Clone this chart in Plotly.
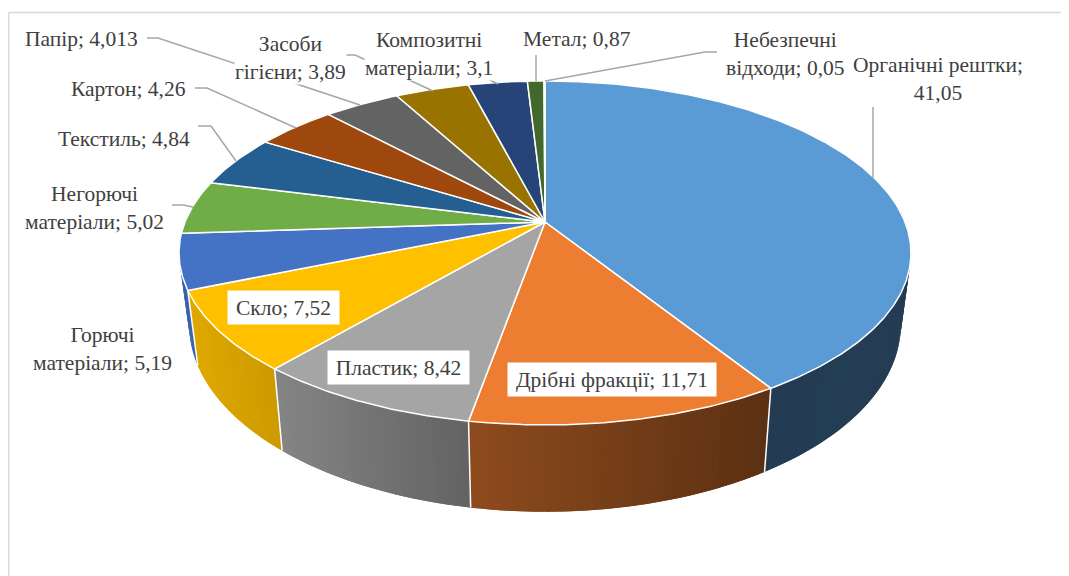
import math
import numpy as np
import plotly.graph_objects as go

categories = ["Органічні рештки", "Дрібні фракції", "Пластик", "Скло", "Горючі матеріали",
              "Негорючі матеріали", "Текстиль", "Картон", "Папір", "Засоби гігієни",
              "Композитні матеріали", "Метал", "Небезпечні відходи"]
values = [41.05, 11.71, 8.42, 7.52, 5.19, 5.02, 4.84, 4.26, 4.013, 3.89, 3.1, 0.87, 0.05]
colors = ["#5B9BD5", "#ED7D31", "#A5A5A5", "#FFC000", "#4472C4", "#70AD47", "#255E91",
          "#9E480E", "#636363", "#997300", "#264478", "#43682B", "#7CAFDD"]

# label text, centre and optional white box size
labels = [
    ("Папір; 4,013", 81, 39, None),
    ("Засоби<br>гігієни; 3,89", 290, 58, None),
    ("Композитні<br>матеріали; 3,1", 429, 54, None),
    ("Метал; 0,87", 577, 39, None),
    ("Небезпечні<br>відходи; 0,05", 785, 54, None),
    ("Органічні рештки;<br>41,05", 938, 79, None),
    ("Картон; 4,26", 128, 89, None),
    ("Текстиль; 4,84", 124, 139, None),
    ("Негорючі<br>матеріали; 5,02", 94, 208, None),
    ("Горючі<br>матеріали; 5,19", 102, 349, None),
    ("Скло; 7,52", 283, 307, (111, 33)),
    ("Пластик; 8,42", 398, 367, (141, 33)),
    ("Дрібні фракції; 11,71", 612, 379, (208, 33)),
]
leaders = [
    [(147, 38), (158, 38), (360, 105)],
    [(345, 55), (355, 55), (433, 91)],
    [(488, 79), (498, 84)],
    [(536, 55), (536, 81)],
    [(717, 52), (705, 52), (545, 81)],
    [(873, 107), (873, 178)],
    [(195, 88), (207, 88), (296, 128)],
    [(198, 126), (211, 126), (236, 161)],
    [(172, 205), (183, 205), (193, 207)],
]

CX, P = 545.0, 0.18
TOP = dict(a=360.0, b=166.4, y0=222.0)
BOT = dict(a=350.0, b=181.0, y0=291.0)
shade_x = [187, 280, 470, 771, 911]
shade_f = [0.88, 0.80, 0.60, 0.39, 0.40]
BODY = 8  # the page's default body margin


def proj(deg, g):
    t = np.radians(deg)
    s, c = np.sin(t), np.cos(t)
    w = 1 + P * c
    return CX + g["a"] * s / w, g["y0"] - g["b"] * c / w


def shade(col, f):
    r, g, b = int(col[1:3], 16), int(col[3:5], 16), int(col[5:7], 16)
    return f"rgb({int(r*f)},{int(g*f)},{int(b*f)})"


fig = go.Figure()
total = sum(values)
edges = [0.0]
for v in values:
    edges.append(edges[-1] + v / total * 360)


def poly(xs, ys, fill, line=None, width=1.0):
    fig.add_trace(go.Scatter(x=list(xs), y=list(ys), mode="lines", fill="toself", fillcolor=fill,
                             line=dict(color=line or fill, width=width), hoverinfo="skip", showlegend=False))


# side wall: thin strips, outermost first; each runs on under the next one to hide seams
strips = []
STEP = 1.0
for i, col in enumerate(colors):
    a0, a1 = max(edges[i], 80), min(edges[i + 1], 280)
    if a1 <= a0:
        continue
    n = max(1, int(math.ceil((a1 - a0) / STEP)))
    for k in range(n):
        strips.append((a0 + (a1 - a0) * k / n, a0 + (a1 - a0) * (k + 1) / n, col))
strips.sort(key=lambda q: -abs((q[0] + q[1]) / 2 - 180))
for a0, a1, col in strips:
    tx0, ty0 = proj(a0, TOP); tx1, ty1 = proj(a1, TOP)
    f = float(np.interp((tx0 + tx1) / 2, shade_x, shade_f))
    if (a0 + a1) / 2 < 180:
        a1 = min(a1 + 1.0, 180)
    else:
        a0 = max(a0 - 1.0, 180)
    th = np.array([a0, (a0 + a1) / 2, a1])
    tx, ty = proj(th, TOP)
    bx, by = proj(th[::-1], BOT)
    poly([*tx, *bx, tx[0]], [*ty, *by, ty[0]], shade(col, f), width=0.01)

# white separators on the wall
for e in edges[1:5]:
    tx, ty = proj(e, TOP); bx, by = proj(e, BOT)
    fig.add_trace(go.Scatter(x=[tx, bx], y=[ty, by], mode="lines", line=dict(color="white", width=1.5),
                             hoverinfo="skip", showlegend=False))

# top face
ax, ay = CX, TOP["y0"]
for i, col in enumerate(colors):
    th = np.linspace(edges[i], edges[i + 1], max(2, int((edges[i + 1] - edges[i]) * 2)))
    rx, ry = proj(th, TOP)
    poly([ax, *rx, ax], [ay, *ry, ay], col, line="white", width=1.5)

# leader lines
for pts in leaders:
    fig.add_trace(go.Scatter(x=[p[0] for p in pts], y=[p[1] for p in pts], mode="lines",
                             line=dict(color="#A6A6A6", width=1.5), hoverinfo="skip", showlegend=False))

for text, x, y, box in labels:
    kw = dict(width=box[0], height=box[1]) if box else {}
    fig.add_annotation(x=x, y=y, xref="x", yref="y", text=text, showarrow=False, align="center",
                       xanchor="center", yanchor="middle", bgcolor="white", borderpad=0,
                       font=dict(family="Liberation Serif", size=21.5, color="#404040"), **kw)

fig.update_layout(
    width=1069 - BODY, height=576 - BODY, autosize=False,
    margin=dict(l=0, r=0, t=0, b=0), paper_bgcolor="white", plot_bgcolor="white", showlegend=False,
    xaxis=dict(range=[BODY, 1069], visible=False, fixedrange=True),
    yaxis=dict(range=[576, BODY], visible=False, fixedrange=True),
    shapes=[
        dict(type="line", xref="x", yref="y", x0=8.6, y0=12.5, x1=8.6, y1=576, line=dict(color="#D9D9D9", width=1.5)),
        dict(type="line", xref="x", yref="y", x0=8.6, y0=12.5, x1=1069, y1=12.5, line=dict(color="#D9D9D9", width=1.5)),
    ],
)
fig.write_html("out.html", config={"displayModeBar": False})
